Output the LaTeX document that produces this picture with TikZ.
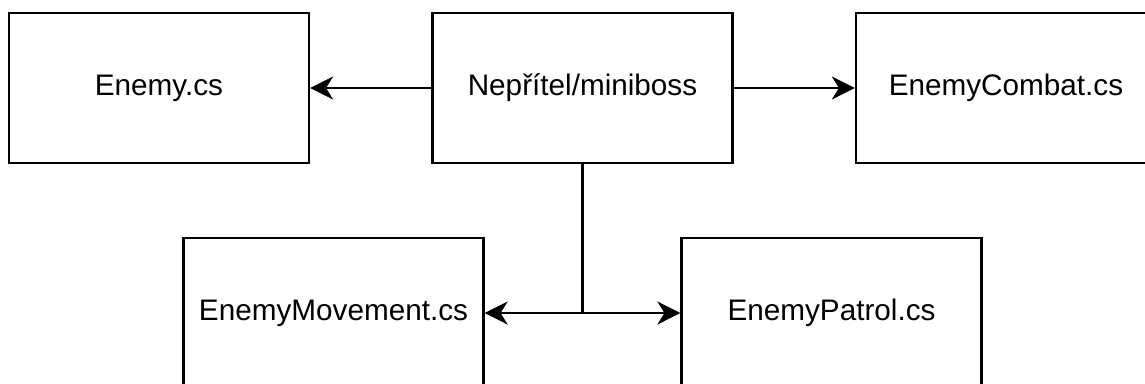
\documentclass[tikz,border=0pt]{standalone}
\usepackage{fontspec}
\setmainfont{Liberation Sans}
\usetikzlibrary{arrows.meta}
\begin{document}
\begin{tikzpicture}[x=1pt,y=-1pt,
  box/.style={draw=black,line width=2.2pt,minimum width=300pt,minimum height=150pt,inner sep=0pt,
    font=\fontsize{29.7}{34}\selectfont,fill=white},
  conn/.style={draw=black,line width=2.2pt},
  arr/.style={conn,-{Stealth[length=23pt,width=23pt,inset=7pt]}}]
\useasboundingbox (0,0) rectangle (1145,383);
\fill[white] (0,0) rectangle (1145,383);
\clip (0,0) rectangle (1145,383);
\node[box] (en) at (159,88) {Enemy.cs};
\node[box] (nep) at (582.5,88) {Nepřítel/miniboss};
\node[box] (comb) at (1006,88) {EnemyCombat.cs};
\node[box] (mov) at (333.5,313) {EnemyMovement.cs};
\node[box] (pat) at (831.5,313) {EnemyPatrol.cs};
\coordinate (j) at (nep.south |- mov.east);
\draw[arr] (nep.west) -- (en.east);
\draw[arr] (nep.east) -- (comb.west);
\draw[conn] (nep.south) -- (j);
\draw[arr] (j) -- (mov.east);
\draw[arr] (j) -- (pat.west);
\end{tikzpicture}
\end{document}
